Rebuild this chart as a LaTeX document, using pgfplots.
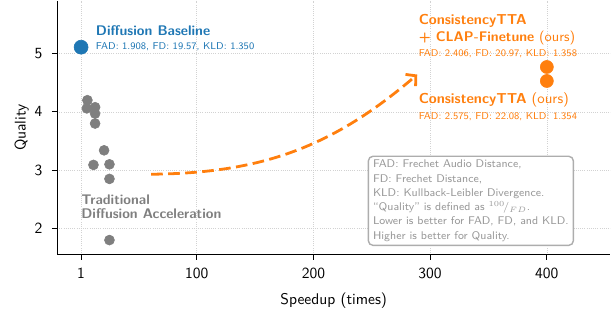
\documentclass[border=0pt]{standalone}
\usepackage{pgfplots}
\pgfplotsset{compat=1.18}
\usetikzlibrary{arrows.meta}
\usepackage{fontspec}
\renewcommand{\familydefault}{\sfdefault}
\definecolor{cblue}{HTML}{1F77B4}
\definecolor{corange}{HTML}{FF7F0E}
\definecolor{cgray}{HTML}{7F7F7F}
\definecolor{lgray}{HTML}{999999}
\begin{document}
\begin{tikzpicture}
\begin{axis}[
  scale only axis, width=357pt, height=164pt,
  xmin=-19.6, xmax=454.5, ymin=1.548, ymax=5.91,
  axis lines=left, axis line style={-, line width=0.7pt},
  xtick={1,100,200,300,400}, ytick={2,3,4,5},
  tick align=outside, tick style={black, line width=0.5pt},
  major tick length=3.3pt,
  grid=major, major grid style={densely dotted, gray!35},
  /pgf/number format/assume math mode=true,
  tick label style={font=\sffamily},
  yticklabel style={xshift=-2.6pt},
  xticklabel style={yshift=-2pt},
  xlabel={Speedup (times)}, ylabel={Quality},
  label style={font=\sffamily},
  xlabel style={yshift=-2pt}, ylabel style={yshift=-3pt},
  clip=false,
]
\addplot[only marks, mark=*, mark size=3.2pt, mark options={draw=cgray, fill=cgray}] coordinates {
(6.4,4.20) (5.9,4.06) (13,4.08) (13,3.97) (13,3.80) (20.7,3.34) (11.6,3.09) (25.3,3.10) (25.3,2.85) (25.3,1.80)};
\addplot[only marks, mark=*, mark size=4.5pt, mark options={draw=cblue, fill=cblue}] coordinates {(1,5.11)};
\addplot[only marks, mark=*, mark size=4.2pt, mark options={draw=corange, fill=corange}] coordinates {(400,4.77) (400,4.53)};
\draw[corange, line width=1.8pt, dash pattern=on 7.5pt off 3.5pt, -{Straight Barb[length=4.5pt, width=10pt]}] (axis cs:61,2.93) to[bend right=20] (axis cs:289,4.64);
\node[anchor=west, text=cblue, font=\small\bfseries, inner sep=0pt] at (axis cs:13.5,5.39) {Diffusion Baseline};
\node[anchor=west, text=cblue, font=\fontsize{6.4}{7}\selectfont, inner sep=0pt] at (axis cs:13.5,5.12) {FAD: 1.908, FD: 19.57, KLD: 1.350};
\node[anchor=west, text=corange, font=\fontsize{9.3}{11}\bfseries, inner sep=0pt] at (axis cs:290,5.56) {ConsistencyTTA};
\node[anchor=west, text=corange, font=\small, inner sep=0pt] at (axis cs:290,5.27) {\textbf{+ CLAP-Finetune} (ours)};
\node[anchor=west, text=corange, font=\fontsize{6.4}{7}\selectfont, inner sep=0pt] at (axis cs:290,5.0) {FAD: 2.406, FD: 20.97, KLD: 1.358};
\node[anchor=west, text=corange, font=\fontsize{9.3}{11}\selectfont, inner sep=0pt] at (axis cs:290,4.20) {\textbf{ConsistencyTTA} (ours)};
\node[anchor=west, text=corange, font=\fontsize{6.4}{7}\selectfont, inner sep=0pt] at (axis cs:290,3.92) {FAD: 2.575, FD: 22.08, KLD: 1.354};
\node[anchor=west, text=cgray, font=\small\bfseries, inner sep=0pt] at (axis cs:1,2.50) {Traditional};
\node[anchor=west, text=cgray, font=\small\bfseries, inner sep=0pt] at (axis cs:1,2.25) {Diffusion Acceleration};
\node[anchor=north west, draw=lgray!80, line width=0.9pt, rounded corners=3pt, fill=white, text=lgray, align=left,
  font=\fontsize{7.2}{9.2}\selectfont, inner xsep=3pt, inner ysep=2.5pt] at (axis cs:246.5,3.25)
  {FAD: Frechet Audio Distance,\\ FD: Frechet Distance,\\ KLD: Kullback-Leibler Divergence.\\
   ``Quality'' is defined as ${}^{100}\!/_{FD}$.\\ Lower is better for FAD, FD, and KLD.\\ Higher is better for Quality.};
\end{axis}
\path ([xshift=-36.8pt,yshift=-37pt]current axis.south west);
\end{tikzpicture}
\end{document}
